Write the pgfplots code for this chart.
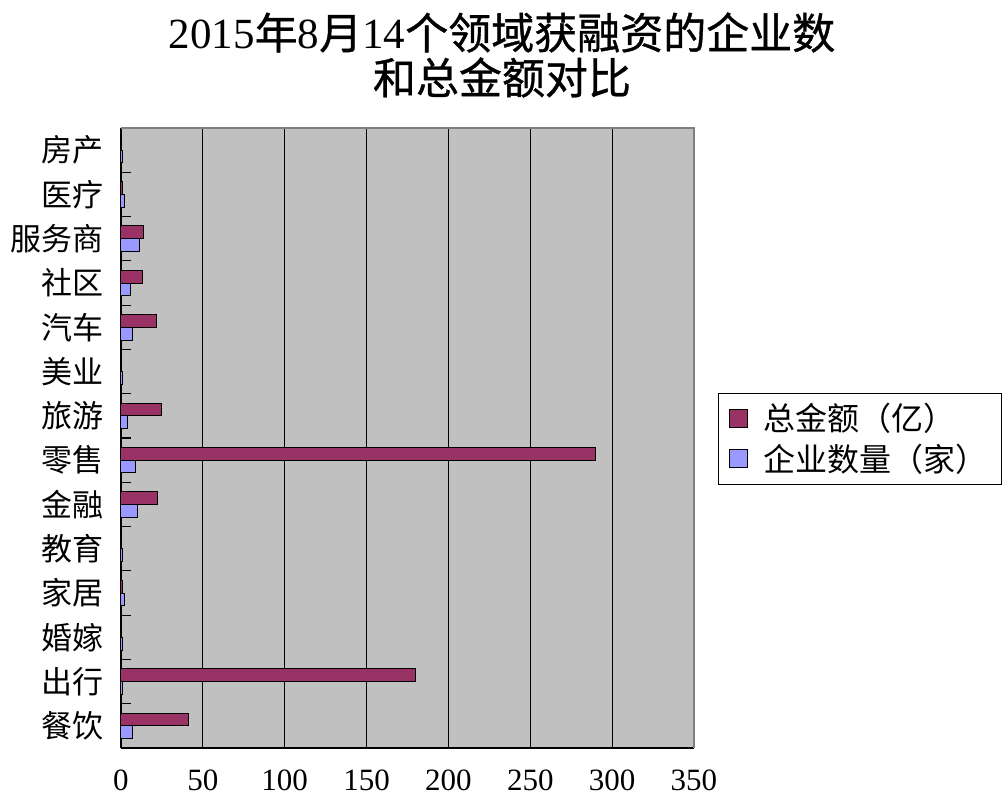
\documentclass[border=0pt]{standalone}
\usepackage{fontspec}
\setmainfont{Liberation Serif}
\newfontfamily\cjk{Noto Sans CJK SC}
\newfontfamily\cjkt[FakeBold=0.8]{Noto Sans CJK SC}
\usepackage{pgfplots}
\pgfplotsset{compat=1.18}
\definecolor{amt}{HTML}{993366}
\definecolor{cnt}{HTML}{9999FF}
\definecolor{bg}{HTML}{C0C0C0}
\definecolor{frame}{HTML}{808080}
\begin{document}
\begin{tikzpicture}
\path[use as bounding box] (0,0) rectangle (504pt,399.5pt);
\node[align=center, font=\fontsize{21.5pt}{22.5pt}\selectfont] at (251pt,372pt)
  {2015{\cjkt 年}8{\cjkt 月}14{\cjkt 个领域获融资的企业数}\\{\cjkt 和总金额对比}};
\begin{axis}[
  at={(60.5pt,25.5pt)}, anchor=south west,
  scale only axis, width=286.5pt, height=310pt,
  xmin=0, xmax=350, ymin=-0.5, ymax=13.5,
  xbar, bar width=0.29,
  axis x line*=bottom, axis y line*=left,
  axis line style={black, line width=0.6pt, -},
  axis background/.style={fill=bg},
  xtick={0,50,...,350},
  xmajorgrids, major grid style={black, line width=0.5pt},
  major x tick style={draw=none},
  ytick={0,...,13},
  yticklabels={餐饮,出行,婚嫁,家居,教育,金融,零售,旅游,美业,汽车,社区,服务商,医疗,房产},
  major y tick style={draw=none},
  extra y ticks={-0.5,0.5,...,13.5},
  extra y tick labels={},
  extra y tick style={major tick length=5pt, tick align=inside,
    major y tick style={black, line width=0.6pt, draw=black}, ymajorgrids=false},
  yticklabel style={font=\fontsize{15.5pt}{18pt}\cjk, xshift=-1pt},
  xticklabel style={font=\fontsize{15.5pt}{18pt}\selectfont, yshift=-7.5pt},
  /pgf/number format/assume math mode=true,
  legend style={at={(1.5375,0.5726)}, anchor=north east, draw=black, fill=white,
    font=\fontsize{16pt}{19pt}\cjk, row sep=1pt, inner xsep=5pt, inner ysep=3pt,
    cells={anchor=west}, /tikz/every odd column/.style={column sep=6pt}},
  legend image code/.code={\draw[#1, line width=0.5pt] (0pt,-4.5pt) rectangle (9pt,4.5pt);},
  clip=false,
  after end axis/.code={
    \draw[frame, line width=0.8pt] (rel axis cs:0,1) -- (rel axis cs:1,1) -- (rel axis cs:1,0);
  },
]
\addplot[fill=amt, draw=black, line width=0.5pt, bar shift=0.145] coordinates {
  (41,0) (180,1) (0.3,2) (1,3) (0,4) (22.5,5) (290,6)
  (24.5,7) (0.3,8) (21.5,9) (13,10) (14,11) (1,12) (0.5,13)
};
\addlegendentry{总金额（亿）}
\addplot[fill=cnt, draw=black, line width=0.5pt, bar shift=-0.145] coordinates {
  (7,0) (1,1) (1,2) (2,3) (1,4) (10,5) (9,6)
  (4,7) (1,8) (7,9) (6,10) (11,11) (2,12) (1,13)
};
\addlegendentry{企业数量（家）\hspace{6pt}}
\end{axis}
\end{tikzpicture}
\end{document}
